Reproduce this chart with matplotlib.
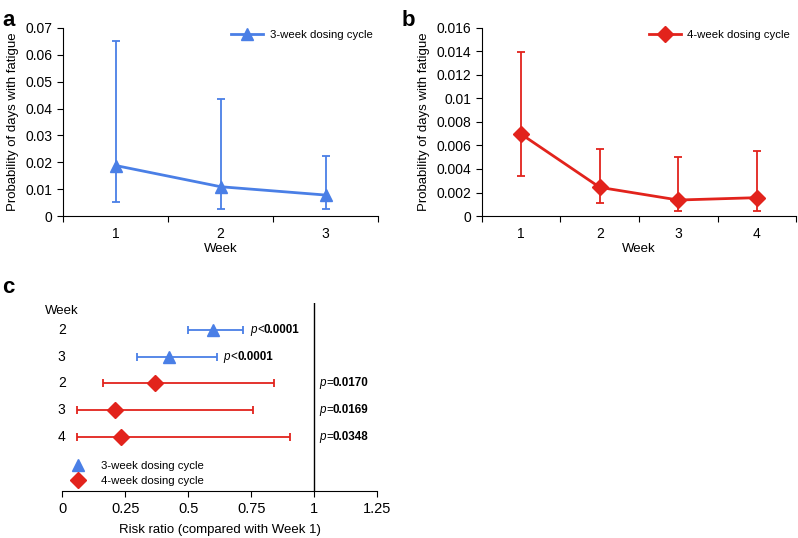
import matplotlib
matplotlib.use("Agg")
import matplotlib.pyplot as plt
from matplotlib.lines import Line2D

plt.rcParams['font.family'] = ['Liberation Sans', 'DejaVu Sans']
plt.rcParams['font.size'] = 10

blue = '#4a7fe6'
red = '#e2231c'

# panel a: 3-week dosing cycle
weeks_a = [1, 2, 3]
prob_a = [0.0188, 0.0109, 0.0078]
lo_a = [0.0051, 0.0026, 0.0026]
hi_a = [0.0652, 0.0435, 0.0225]

# panel b: 4-week dosing cycle
weeks_b = [1, 2, 3, 4]
prob_b = [0.00696, 0.00244, 0.00136, 0.00156]
lo_b = [0.00344, 0.00108, 0.00043, 0.00043]
hi_b = [0.01395, 0.00571, 0.00506, 0.00557]

# panel c: risk ratios vs week 1
row_week = ['2', '3', '2', '3', '4']
row_cycle = ['3wk', '3wk', '4wk', '4wk', '4wk']
rr = [0.596, 0.425, 0.367, 0.209, 0.234]
rr_lo = [0.500, 0.295, 0.160, 0.057, 0.057]
rr_hi = [0.715, 0.613, 0.839, 0.755, 0.902]
p_sym = ['<', '<', '=', '=', '=']
p_val = ['0.0001', '0.0001', '0.0170', '0.0169', '0.0348']
p_x = [0.747, 0.640, 1.02, 1.02, 1.02]

fig = plt.figure(figsize=(7.98, 5.38), dpi=100)


def cat_axis(ax, n):
    ax.set_xlim(0.5, n + 0.5)
    ax.set_xticks([i + 0.5 for i in range(n + 1)])
    ax.set_xticklabels([''] * (n + 1))
    ax.set_xticks(range(1, n + 1), minor=True)
    ax.set_xticklabels([str(i) for i in range(1, n + 1)], minor=True)
    ax.tick_params(axis='x', which='minor', length=0, pad=8, labelsize=10)
    ax.tick_params(axis='x', which='major', length=4)
    ax.tick_params(axis='y', length=4, labelsize=10)
    ax.spines['top'].set_visible(False)
    ax.spines['right'].set_visible(False)
    ax.set_xlabel('Week', fontsize=9.5, labelpad=1)
    ax.set_ylabel('Probability of days with fatigue', fontsize=9.5, labelpad=5)


# ---- a
ax1 = fig.add_axes([0.079, 0.5985, 0.395, 0.3495])
err = [[p - l for p, l in zip(prob_a, lo_a)], [h - p for p, h in zip(prob_a, hi_a)]]
ax1.errorbar(weeks_a, prob_a, yerr=err, fmt='none', ecolor=blue, elinewidth=1.3, capsize=3, capthick=1.3)
ax1.plot(weeks_a, prob_a, color=blue, lw=2, marker='^', ms=9, label='3-week dosing cycle')
ax1.set_ylim(0, 0.07)
ax1.set_yticks([0, 0.01, 0.02, 0.03, 0.04, 0.05, 0.06, 0.07])
ax1.set_yticklabels(['0', '0.01', '0.02', '0.03', '0.04', '0.05', '0.06', '0.07'])
cat_axis(ax1, 3)
ax1.legend(loc='upper right', bbox_to_anchor=(1.0, 1.02), frameon=False, fontsize=8.2,
           handlelength=2.8, handletextpad=0.6, borderaxespad=0.1)
fig.text(0.003, 0.952, 'a', fontsize=16, fontweight='bold')

# ---- b
ax2 = fig.add_axes([0.604, 0.5985, 0.3935, 0.3495])
err = [[p - l for p, l in zip(prob_b, lo_b)], [h - p for p, h in zip(prob_b, hi_b)]]
ax2.errorbar(weeks_b, prob_b, yerr=err, fmt='none', ecolor=red, elinewidth=1.3, capsize=3, capthick=1.3)
ax2.plot(weeks_b, prob_b, color=red, lw=2, marker='D', ms=8, label='4-week dosing cycle')
ax2.set_ylim(0, 0.016)
ax2.set_yticks([0, 0.002, 0.004, 0.006, 0.008, 0.01, 0.012, 0.014, 0.016])
ax2.set_yticklabels(['0', '0.002', '0.004', '0.006', '0.008', '0.01', '0.012', '0.014', '0.016'])
cat_axis(ax2, 4)
ax2.legend(loc='upper right', bbox_to_anchor=(1.0, 1.02), frameon=False, fontsize=8.2,
           handlelength=2.8, handletextpad=0.6, borderaxespad=0.1)
fig.text(0.503, 0.952, 'b', fontsize=16, fontweight='bold')

# ---- c
ax3 = fig.add_axes([0.078, 0.088, 0.395, 0.349])
ax3.set_xlim(0, 1.25)
ax3.set_ylim(7, 0)
rows = list(range(1, len(rr) + 1))
for y, c, r, lo, hi in zip(rows, row_cycle, rr, rr_lo, rr_hi):
    col = blue if c == '3wk' else red
    mk = '^' if c == '3wk' else 'D'
    ax3.errorbar([r], [y], xerr=[[r - lo], [hi - r]], fmt='none', ecolor=col,
                 elinewidth=1.3, capsize=3, capthick=1.3)
    ax3.plot([r], [y], marker=mk, color=col, ms=9 if mk == '^' else 8, ls='none')
for y, s, v, x in zip(rows, p_sym, p_val, p_x):
    t = ax3.text(x, y, 'p', style='italic', va='center', ha='left', fontsize=8.4)
    t2 = ax3.annotate(s, xy=(1, 0.5), xycoords=t, va='center', ha='left', fontsize=8.4)
    ax3.annotate(v, xy=(1, 0.5), xycoords=t2, va='center', ha='left', fontsize=8.4, fontweight='bold')
for y, w in zip(rows, row_week):
    ax3.text(-0.002, y, w, ha='center', va='center', fontsize=10)
ax3.text(-0.002, 0.3, 'Week', ha='center', va='center', fontsize=9.5)
ax3.axvline(1, color='black', lw=1)
ax3.set_xticks([0, 0.25, 0.5, 0.75, 1, 1.25])
ax3.set_xticklabels(['0', '0.25', '0.5', '0.75', '1', '1.25'])
ax3.tick_params(axis='x', length=4, pad=4, labelsize=10.5)
ax3.set_yticks([])
for s in ['top', 'right', 'left']:
    ax3.spines[s].set_visible(False)
ax3.set_xlabel('Risk ratio (compared with Week 1)', fontsize=9.5, labelpad=6)
handles = [Line2D([], [], color=blue, marker='^', ls='none', ms=9, label='3-week dosing cycle'),
           Line2D([], [], color=red, marker='D', ls='none', ms=8, label='4-week dosing cycle')]
ax3.legend(handles=handles, loc='lower left', bbox_to_anchor=(-0.01, -0.02), frameon=False,
           fontsize=8.2, handletextpad=1.0, labelspacing=0.5, borderaxespad=0.3)
fig.text(0.003, 0.456, 'c', fontsize=16, fontweight='bold')

fig.savefig('out.png', dpi=100)
